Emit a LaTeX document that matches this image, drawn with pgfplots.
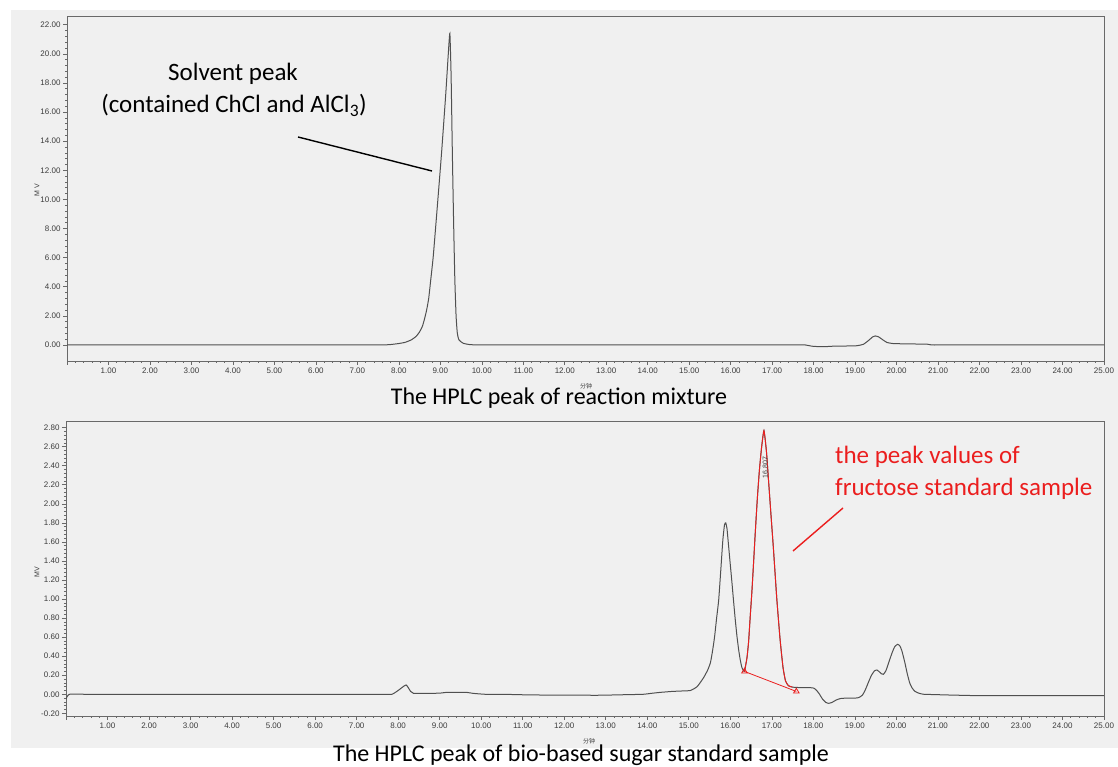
\documentclass[border=0pt]{standalone}
\usepackage{fontspec}
\setmainfont{Carlito}
\newfontfamily\arial{Liberation Sans}
\newfontfamily\cjk{Noto Sans CJK SC}
\usepackage{pgfplots}
\pgfplotsset{compat=1.18}
\usepackage{pgfplotstable}
\definecolor{bggray}{RGB}{240,240,240}
\definecolor{axgray}{RGB}{105,105,105}
\definecolor{curve}{RGB}{80,80,80}
\definecolor{tlab}{RGB}{60,60,60}
\definecolor{pkred}{RGB}{235,30,30}

\pgfplotstableread{
t v
0 0
1 0
2 0
3 0
4 0
5 0
6 0
6.8 0
7.3 0
7.6 0
7.8 0.03
8.0 0.1
8.15 0.18
8.30 0.35
8.42 0.6
8.50 0.9
8.57 1.3
8.62 1.8
8.67 2.4
8.72 3.2
8.77 4.5
8.83 6.1
8.93 9.6
9.03 13.2
9.13 17.2
9.19 19.9
9.23 21.4
9.26 18.5
9.29 13.2
9.32 8.5
9.35 4.5
9.38 2.0
9.41 0.8
9.45 0.35
9.55 0.12
9.70 0.03
9.90 0.0
10.2 0
10.7 0
11.5 0
12.5 0
13.5 0
14.5 0
15.5 0
16.5 0
17.2 0
17.5 0
17.80 0.0
17.95 -0.08
18.10 -0.11
18.30 -0.11
18.50 -0.08
18.80 -0.07
19.05 -0.05
19.20 0.05
19.32 0.3
19.42 0.55
19.49 0.62
19.57 0.55
19.67 0.35
19.77 0.17
19.91 0.1
20.15 0.08
20.40 0.07
20.60 0.06
20.75 0.05
20.85 0
21.0 0
21.3 0
21.8 0
22.5 0
23.5 0
24.5 0
25 0
}\topdata

\pgfplotstableread{
t v
0 -0.05
0.08 0
0.5 0
1.5 0
2.5 0
3.5 0
4.5 0
5.5 0
6.5 0
7.2 0
7.6 0
7.85 0
8.00 0.04
8.19 0.098
8.30 0.03
8.37 0.01
8.6 0.01
8.8 0.01
9.00 0.012
9.17 0.02
9.40 0.02
9.65 0.02
9.80 0.01
10.10 0
10.5 0
11.0 -0.005
11.5 -0.008
12.06 -0.01
12.50 -0.01
12.87 -0.01
13.4 -0.005
13.90 0
14.10 0.01
14.31 0.02
14.60 0.03
14.85 0.035
15.04 0.04
15.20 0.08
15.35 0.17
15.45 0.25
15.52 0.33
15.57 0.45
15.62 0.6
15.67 0.8
15.72 0.99
15.77 1.3
15.82 1.62
15.86 1.78
15.89 1.80
15.92 1.74
15.96 1.55
16.00 1.36
16.04 1.17
16.08 0.97
16.12 0.78
16.16 0.61
16.20 0.47
16.24 0.36
16.28 0.28
16.34 0.24
16.40 0.38
16.44 0.55
16.48 0.82
16.52 1.08
16.56 1.38
16.60 1.69
16.65 2.05
16.70 2.35
16.75 2.58
16.81 2.77
16.87 2.55
16.92 2.25
16.98 1.88
17.04 1.52
17.12 1.0
17.20 0.57
17.27 0.28
17.33 0.14
17.40 0.09
17.50 0.075
17.69 0.07
17.90 0.07
18.01 0.065
18.08 0.04
18.15 0.0
18.22 -0.05
18.30 -0.085
18.37 -0.095
18.45 -0.085
18.55 -0.06
18.65 -0.045
18.80 -0.04
19.00 -0.04
19.09 -0.035
19.18 -0.01
19.25 0.045
19.33 0.13
19.40 0.2
19.47 0.245
19.53 0.255
19.58 0.24
19.64 0.215
19.69 0.21
19.75 0.25
19.82 0.34
19.90 0.44
19.96 0.50
20.03 0.525
20.08 0.51
20.13 0.46
20.20 0.34
20.26 0.22
20.32 0.12
20.38 0.065
20.45 0.03
20.55 0.01
20.66 0.0
20.9 -0.003
21.3 -0.008
21.7 -0.012
22.02 -0.015
22.5 -0.015
23.2 -0.015
24.0 -0.015
25 -0.015
}\botdata

\pgfplotstableread{
t v
16.34 0.24
16.40 0.38
16.44 0.55
16.48 0.82
16.52 1.08
16.56 1.38
16.60 1.69
16.65 2.05
16.70 2.35
16.75 2.58
16.81 2.77
16.87 2.55
16.92 2.25
16.98 1.88
17.04 1.52
17.12 1.0
17.20 0.57
17.27 0.28
17.33 0.14
17.40 0.09
17.50 0.075
}\reddata

\pgfplotsset{
  hplc/.style={
    scale only axis,
    anchor=south west,
    xmin=0, xmax=25,
    axis background/.style={fill=bggray},
    axis line style={axgray, line width=0.9pt},
    tick align=outside,
    xtick pos=bottom, ytick pos=left,
    major tick length=4pt, minor tick length=2pt,
    tick style={axgray, line width=0.6pt},
    minor x tick num=4, minor y tick num=4,
    xtick={0,1,...,25},
    xticklabels={,1.00,2.00,3.00,4.00,5.00,6.00,7.00,8.00,9.00,10.00,11.00,12.00,13.00,14.00,15.00,16.00,17.00,18.00,19.00,20.00,21.00,22.00,23.00,24.00,25.00},
    /pgf/number format/assume math mode=true,
    /pgf/number format/fixed,
    /pgf/number format/fixed zerofill,
    /pgf/number format/precision=2,
    tick label style={font=\arial\fontsize{8}{9}\selectfont, text=tlab},
    xticklabel style={yshift=1pt},
    yticklabel style={xshift=1pt},
  }
}

\begin{document}
\begin{tikzpicture}[x=1pt,y=1pt]
\useasboundingbox (0,0) rectangle (1118,767);
\fill[white] (0,0) rectangle (1118,767);
\fill[bggray] (11,19) rectangle (1118,757);

\begin{axis}[hplc, at={(67pt,406pt)}, width=1037pt, height=345pt,
  ymin=-1.1, ymax=22.6, ytick={0,2,...,22}]
\addplot[curve, line width=1pt, no marks, smooth, tension=0.3] table[x=t,y=v] {\topdata};
\end{axis}

\begin{axis}[hplc, at={(66pt,51pt)}, width=1038pt, height=295pt,
  ymin=-0.228, ymax=2.87,
  ytick={-0.2,0,0.2,0.4,0.6,0.8,1,1.2,1.4,1.6,1.8,2,2.2,2.4,2.6,2.8}]
\addplot[curve, line width=1pt, no marks, smooth, tension=0.3] table[x=t,y=v] {\botdata};
\addplot[pkred, line width=0.9pt, no marks, smooth, tension=0.3] table[x=t,y=v] {\reddata};
\addplot[pkred, line width=0.8pt, mark=triangle, mark size=3.2pt, mark options={solid, fill=none}] coordinates {(16.34,0.24) (17.59,0.03)};
\node[rotate=90, font=\arial\fontsize{7}{8}\selectfont, text=tlab] at (axis cs:16.84,2.38) {16.807};
\end{axis}

% annotations
\node[anchor=base, font=\fontsize{25}{30}\selectfont] at (233,686) {Solvent peak};
\node[anchor=base, font=\fontsize{25}{30}\selectfont] at (234,654) {(contained ChCl and AlCl\textsubscript{3})};
\draw[black, line width=1.4pt] (298,630) -- (432,596);

\node[anchor=base west, font=\fontsize{25}{30}\selectfont, text=pkred, inner sep=0pt] at (835,303) {the peak values of};
\node[anchor=base west, font=\fontsize{25}{30}\selectfont, text=pkred, inner sep=0pt] at (835,271) {fructose standard sample};
\draw[pkred, line width=1.4pt] (843,259) -- (793,216);

\node[anchor=base, font=\fontsize{24}{29}\selectfont] at (559,362) {The HPLC peak of reaction mixture};
\node[anchor=base, font=\fontsize{24}{29}\selectfont] at (581,5) {The HPLC peak of bio-based sugar standard sample};

% axis titles
\node[rotate=90, font=\arial\fontsize{7}{8}\selectfont, text=tlab] at (37,577) {M V};
\node[rotate=90, font=\arial\fontsize{7}{8}\selectfont, text=tlab] at (37,195) {MV};
\node[font=\cjk\fontsize{6}{7}\selectfont, text=tlab] at (586,381) {分钟};
\node[font=\cjk\fontsize{6}{7}\selectfont, text=tlab] at (589,26) {分钟};
\end{tikzpicture}
\end{document}
